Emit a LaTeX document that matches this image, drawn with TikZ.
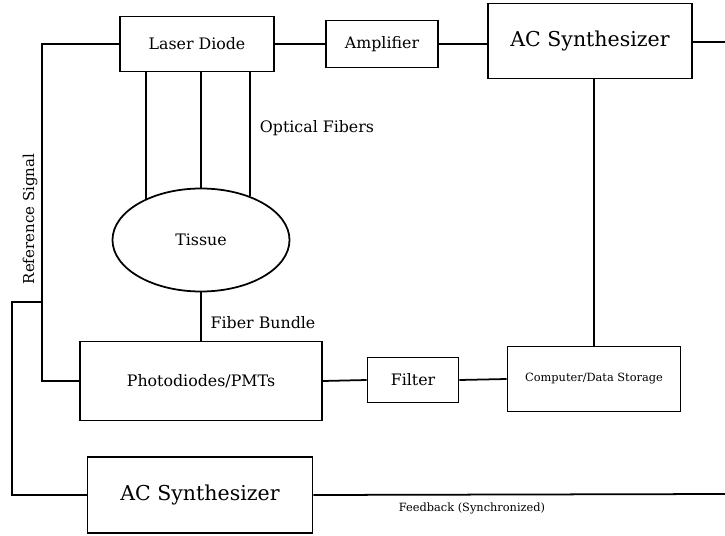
\documentclass[tikz,border=0pt]{standalone}
\usepackage{fontspec}
\setmainfont{DejaVu Serif}
\usepackage{tikz}
\usetikzlibrary{shapes.geometric,positioning}

\tikzset{
  blk/.style={draw, line width=1.5pt, inner sep=0pt, fill=white},
  wire/.style={line width=1.5pt},
  txt/.style={font=\fontsize{13.5}{16}\selectfont},
  bigtxt/.style={font=\fontsize{17.5}{21}\selectfont},
  smalltxt/.style={font=\fontsize{9.7}{12}\selectfont}
}

\begin{document}
\begin{tikzpicture}[x=0.03cm, y=-0.03cm]
  \useasboundingbox (0,0) rectangle (725,536);

  % blocks
  \node[blk, txt, minimum width=4.62cm, minimum height=1.65cm] (laser) at (197,44) {Laser Diode};
  \node[blk, txt, minimum width=3.36cm, minimum height=1.41cm] (amp) at (382,44) {Amplifier};
  \node[blk, bigtxt, minimum width=6.12cm, minimum height=2.25cm] (acsTop) at (590,41) {AC Synthesizer};
  \node[draw, ellipse, line width=1.5pt, txt, inner sep=0pt,
        minimum width=5.31cm, minimum height=3.09cm] (tissue) at (201,240) {Tissue};
  \node[blk, txt, minimum width=7.26cm, minimum height=2.37cm] (pmt) at (201,381) {Photodiodes/PMTs};
  \node[blk, txt, minimum width=2.73cm, minimum height=1.35cm] (filt) at (413,380) {Filter};
  \node[blk, smalltxt, minimum width=5.19cm, minimum height=1.95cm] (comp) at (594,379) {Computer/Data Storage};
  \node[blk, bigtxt, minimum width=6.75cm, minimum height=2.28cm] (acsBot) at (200,495) {AC Synthesizer};

  % free ends and corners
  \path
    (725,42)  coordinate (outTop)
    (725,494) coordinate (outBot)
    (42,44)   coordinate (ref1)
    (42,302)  coordinate (ref2)
    (12,302)  coordinate (ref3);

  % chain along the top
  \draw[wire] (laser.east) -- (amp.west);
  \draw[wire] (amp.east) -- (amp.east -| acsTop.west);
  \draw[wire] (acsTop.east |- outTop) -- (outTop);
  \draw[wire] (comp.north) -- (comp.north |- acsTop.south);

  % optical fibers into the tissue
  \foreach \a in {143,90,42}
    \draw[wire] (tissue.\a) -- (tissue.\a |- laser.south);
  \draw[wire] (tissue.south) -- (tissue.south |- pmt.north);

  % detection chain
  \draw[wire] (pmt.east) -- (filt.west);
  \draw[wire] (filt.east) -- (comp.west);
  \draw[wire] (acsBot.east) -- (outBot);

  % reference signal lines
  \draw[wire] (laser.west) -- (ref1) |- (pmt.west);
  \draw[wire] (ref2) -- (ref3) |- (acsBot.west);

  % labels
  \node[txt] (lblFib) at (317,128) {Optical Fibers};
  \node[txt] (lblBun) at (263,323) {Fiber Bundle};
  \node[font=\fontsize{12.8}{15}\selectfont, rotate=90] (lblRef) at (30,219) {Reference Signal};
  \node[smalltxt] (lblFb) at (472,508) {Feedback (Synchronized)};
\end{tikzpicture}
\end{document}
